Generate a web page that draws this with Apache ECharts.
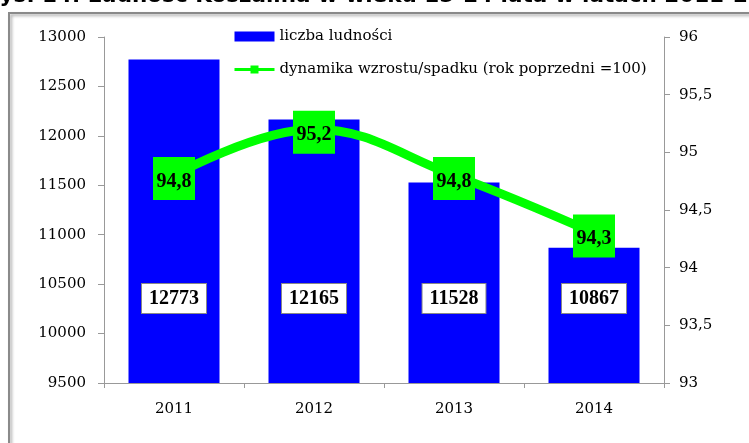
<!DOCTYPE html>
<html>
<head>
<meta charset="utf-8">
<script src="https://cdn.jsdelivr.net/npm/echarts@6/dist/echarts.min.js"></script>
<style>
  html, body { margin: 0; padding: 0; background: #fff; }
  #chart { width: 749px; height: 443px; }
</style>
</head>
<body>
<div id="chart"></div>
<script>
// dane z wykresu
const years = ["2011", "2012", "2013", "2014"];
const ludnosc = [12773, 12165, 11528, 10867];
const dynamika = [94.8, 95.2, 94.8, 94.3];
const leftTicks = { min: 9500, max: 13000, step: 500 };
const rightTicks = { min: 93, max: 96, step: 0.5 };

const serif = "DejaVu Serif";
const comma = v => String(v).replace(".", ",");

let myChart = echarts.init(document.getElementById("chart"));
myChart.setOption({
  animation: false,
  graphic: [
    {
      // ramka wykresu
      type: "rect",
      shape: { x: 9, y: 13, width: 900, height: 600 },
      style: {
        fill: "none",
        stroke: "#8a8a8a",
        lineWidth: 2,
        shadowBlur: 3,
        shadowOffsetX: 2,
        shadowOffsetY: 2,
        shadowColor: "rgba(0,0,0,0.35)"
      },
      z: -1
    },
    {
      // tytuł (ucięty u góry)
      type: "text",
      x: -16,
      y: -4,
      style: {
        text: "Rys. 14. Ludność Koszalina w wieku 15-24 lata w latach 2011-2014",
        font: "bold 21.5px 'DejaVu Sans'",
        fill: "#000",
        verticalAlign: "middle"
      }
    }
  ],
  legend: {
    orient: "vertical",
    left: 228,
    top: 24,
    itemWidth: 40,
    itemHeight: 10,
    itemGap: 18,
    textStyle: { fontFamily: serif, fontSize: 15, color: "#000" },
    lineStyle: { width: 3 },
    data: [
      { name: "liczba ludności", icon: "rect" },
      "dynamika wzrostu/spadku (rok poprzedni =100)"
    ]
  },
  grid: { left: 104, right: 85, top: 37, bottom: 60 },
  xAxis: {
    type: "category",
    data: years,
    axisLine: { lineStyle: { color: "#999" } },
    axisTick: { show: true, length: 5, lineStyle: { color: "#999" } },
    axisLabel: { margin: 19, fontFamily: serif, fontSize: 15, color: "#000" }
  },
  yAxis: [
    {
      type: "value",
      min: leftTicks.min,
      max: leftTicks.max,
      interval: leftTicks.step,
      splitLine: { show: false },
      axisLine: { show: true, lineStyle: { color: "#999" } },
      axisTick: { show: true, length: 6, lineStyle: { color: "#999" } },
      axisLabel: {
        margin: 18, fontFamily: serif, fontSize: 15, color: "#000",
        formatter: v => String(v)
      }
    },
    {
      type: "value",
      min: rightTicks.min,
      max: rightTicks.max,
      interval: rightTicks.step,
      position: "right",
      splitLine: { show: false },
      axisLine: { show: true, lineStyle: { color: "#999" } },
      axisTick: { show: true, length: 6, lineStyle: { color: "#999" } },
      axisLabel: {
        margin: 15, fontFamily: serif, fontSize: 15, color: "#000",
        formatter: comma
      }
    }
  ],
  series: [
    {
      name: "liczba ludności",
      type: "bar",
      data: ludnosc,
      barWidth: "65%",
      itemStyle: { color: "#0000ff" },
      label: {
        show: true,
        position: "insideBottom",
        distance: 70,
        fontFamily: "Liberation Serif",
        fontWeight: "bold",
        fontSize: 20,
        color: "#000",
        backgroundColor: "#fff",
        borderColor: "#888",
        borderWidth: 1,
        padding: [5, 7, 4, 7]
      }
    },
    {
      name: "dynamika wzrostu/spadku (rok poprzedni =100)",
      type: "line",
      yAxisIndex: 1,
      data: dynamika,
      smooth: 0.4,
      symbol: "rect",
      symbolSize: [42, 43],
      symbolOffset: [0, 3],
      lineStyle: { color: "#00ff00", width: 9 },
      itemStyle: { color: "#00ff00" },
      label: {
        show: true,
        position: "inside",
        offset: [0, 3],
        fontFamily: "Liberation Serif",
        fontWeight: "bold",
        fontSize: 20,
        color: "#000",
        formatter: p => comma(p.value)
      },
      z: 5
    }
  ]
});
</script>
</body>
</html>
